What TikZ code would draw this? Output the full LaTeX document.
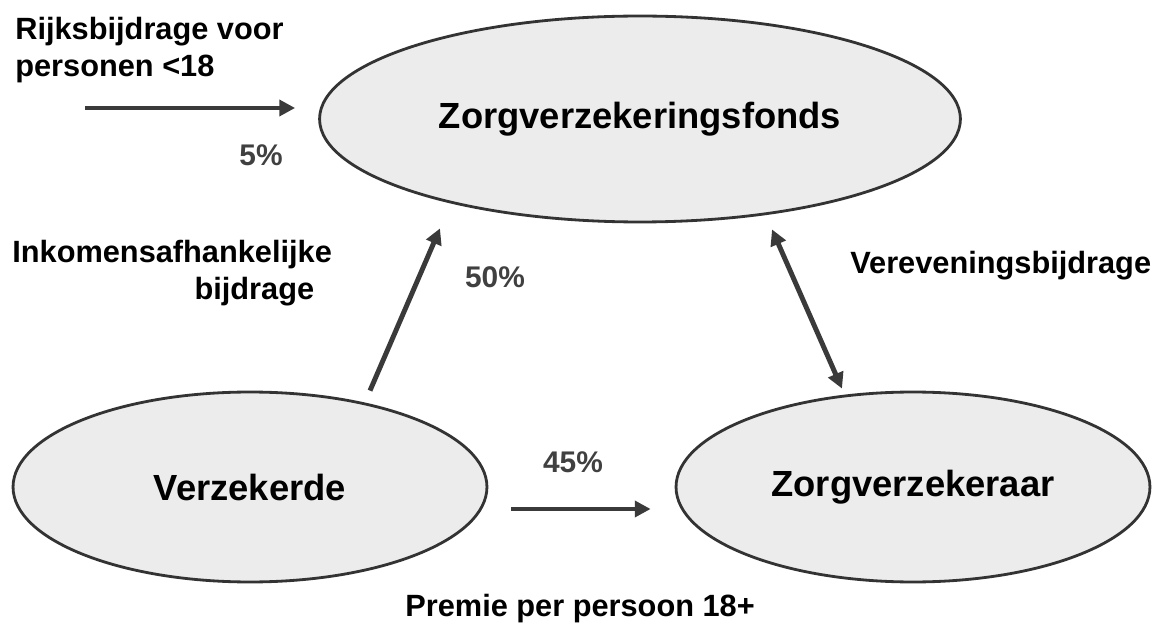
\documentclass[tikz,border=0pt]{standalone}
\usepackage{fontspec}
\setmainfont{Liberation Sans}
\usetikzlibrary{shapes.geometric,arrows.meta,calc}
\definecolor{bubblegray}{RGB}{236,236,236}
\definecolor{edgegray}{RGB}{51,51,51}
\definecolor{flowgray}{RGB}{58,58,58}
\definecolor{pctgray}{RGB}{64,64,64}
\tikzset{
    party/.style={
        ellipse,
        draw=edgegray,
        line width=1.6pt,
        fill=bubblegray,
        inner sep=0pt,
        font=\fontsize{20.7}{24}\selectfont\bfseries
    },
    flow/.style={
        -{Triangle[length=9pt,width=9pt]},
        draw=flowgray,
        line width=2.8pt
    },
    flowboth/.style={
        flow,
        {Triangle[length=9pt,width=9pt]}-{Triangle[length=9pt,width=9pt]}
    },
    caption/.style={
        inner sep=0pt,
        font=\fontsize{17.5}{21.5}\selectfont\bfseries
    },
    share/.style={
        inner sep=0pt,
        text=pctgray,
        font=\fontsize{17}{20}\selectfont\bfseries
    }
}

\begin{document}
\begin{tikzpicture}[x=0.02cm, y=-0.02cm]
\useasboundingbox (0,0) rectangle (1167,628);

% Zorgverzekeringsfonds, Verzekerde, Zorgverzekeraar
\node[party, minimum width=12.82cm, minimum height=4.12cm] (fonds) at (640,119) {Zorgverzekeringsfonds};
\node[party, minimum width=9.48cm, minimum height=3.8cm] (verz) at (250,487) {Verzekerde};
\node[party, minimum width=9.48cm, minimum height=3.8cm] (zv) at (913,487) {Zorgverzekeraar};

% arrow ends
\coordinate (rijks-in) at (85,108);
\coordinate (rijks-out) at ($(fonds.west)+(-23,-11)$);
\coordinate (ink-in) at ($(verz.north)+(120,0)$);
\coordinate (ink-out) at ($(fonds.south)+(-200,5)$);
\coordinate (vev-top) at ($(fonds.south)+(132,6)$);
\coordinate (vev-bot) at ($(zv.north)+(-71,-2)$);
\coordinate (prem-in) at ($(verz.east)+(23,22)$);
\coordinate (prem-out) at ($(zv.west)+(-24,22)$);

\draw[flow] (rijks-in) -- (rijks-out);
\draw[flow] (ink-in) -- (ink-out);
\draw[flowboth] (vev-top) -- (vev-bot);
\draw[flow] (prem-in) -- (prem-out);

% texts
\node[caption, anchor=base west, align=left] (rijks) at (15,77) {Rijksbijdrage voor\\personen <18};
\node[caption, anchor=base west, align=left] (ink) at (12,300) {Inkomensafhankelijke\\\hspace*{103.7pt}bijdrage};
\node[caption, anchor=base west] (vev) at (850,274) {Vereveningsbijdrage};
\node[caption, anchor=base west] (prem) at (405,616) {Premie per persoon 18+};

\node[share] (pct-rijks) at (261,155) {5\%};
\node[share] (pct-ink) at (495,277) {50\%};
\node[share] (pct-prem) at (573,462) {45\%};
\end{tikzpicture}
\end{document}
